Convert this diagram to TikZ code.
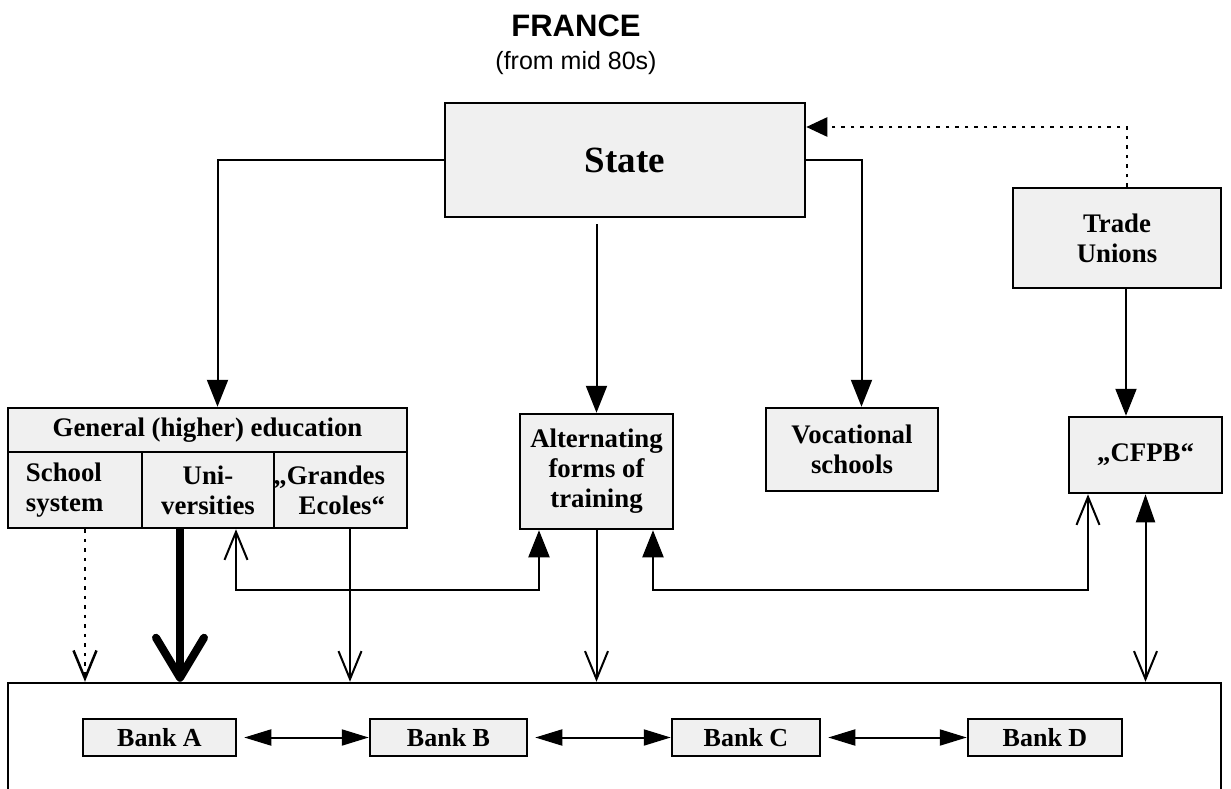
\documentclass[tikz,border=0pt]{standalone}
\usepackage{fontspec}
\setmainfont{Liberation Serif}
\newfontfamily\arialfont{Liberation Sans}
\usetikzlibrary{arrows.meta}
\definecolor{boxgray}{HTML}{F0F0F0}
\begin{document}
\begin{tikzpicture}[x=1pt,y=-1pt,
  box/.style={draw, line width=2.5pt, fill=boxgray, inner sep=0pt, align=center,
    font=\bfseries\fontsize{26.8}{30}\selectfont},
  boxtext/.style={inner sep=0pt, font=\bfseries\fontsize{26.8}{30}\selectfont},
  bankbox/.style={box, minimum height=37, font=\bfseries\fontsize{26}{30}\selectfont},
  conn/.style={line width=2pt},
  dotline/.style={line width=2.5pt, dash pattern=on 3.5pt off 6pt},
  fa/.style={-{Triangle[length=27pt,width=21pt]}},
  ob/.style={-{Straight Barb[length=28pt,width=23pt]}},
  thickarr/.style={line width=8pt, -{Straight Barb[length=40pt,width=48pt,round]}},
  bankarr/.style={{Triangle[length=27pt,width=16pt]}-{Triangle[length=27pt,width=16pt]}},
  loopone/.style={{Straight Barb[length=28pt,width=23pt]}-{Triangle[length=27pt,width=21pt]}},
  looptwo/.style={{Triangle[length=27pt,width=21pt]}-{Straight Barb[length=28pt,width=23pt]}},
  cfpbarr/.style={{Triangle[length=28pt,width=19pt]}-{Straight Barb[length=28pt,width=23pt]}},
  dotarr/.style={-{Triangle[length=21pt,width=19pt]}}
]
\useasboundingbox (0,0) rectangle (1231,789);

% title
\node[anchor=base, inner sep=0pt, font=\arialfont\bfseries\fontsize{31}{31}\selectfont] (title) at (576,37) {FRANCE};
\node[anchor=base, inner sep=0pt, font=\arialfont\fontsize{25}{25}\selectfont] (subtitle) at (576,70) {(from mid 80s)};

% boxes
\node[box, minimum width=360, minimum height=114, font=\bfseries\fontsize{37}{40}\selectfont] (state) at (625,160) {State};
\node[box, minimum width=208, minimum height=100] (trade) at (1117,238) {Trade\\Unions};

\node[box, minimum width=399, minimum height=44] (gen) at (207.5,430) {General (higher) education};
\node[box, minimum width=134, minimum height=76] (school) at (75,490) {};
\node[box, minimum width=132, minimum height=76] (uni) at (208,490) {Uni-\\versities};
\node[box, minimum width=133, minimum height=76] (grandes) at (340.5,490) {};
\node[boxtext, anchor=west, align=left] (schooltxt) at ([xshift=19pt]school.west) {School\\system};
\node[boxtext, anchor=east, align=right] (grandestxt) at ([xshift=-23pt]grandes.east) {„Grandes\\Ecoles“};

\node[box, minimum width=153, minimum height=115] (alt) at (596.5,471.5) {Alternating\\forms of\\training};
\node[box, minimum width=172, minimum height=83] (voc) at (852,449.5) {Vocational\\schools};
\node[box, minimum width=153, minimum height=76] (cfpb) at (1145.5,455) {„CFPB“};

\node[draw, line width=2.5pt, inner sep=0pt, minimum width=1213, minimum height=117] (banks) at (614.5,741.5) {};
\node[bankbox, minimum width=153] (bankA) at (159.5,737.5) {Bank A};
\node[bankbox, minimum width=157] (bankB) at (448.5,737.5) {Bank B};
\node[bankbox, minimum width=148] (bankC) at (746,737.5) {Bank C};
\node[bankbox, minimum width=154] (bankD) at (1045,737.5) {Bank D};

% connectors from State
\draw[conn,fa] (state.west) -| ([xshift=10pt]gen.north);
\draw[conn,fa,shorten <=6pt] (state.south -| alt.north) -- (alt.north);
\draw[conn,fa] (state.east) -| ([xshift=9.5pt]voc.north);
\draw[dotline,dotarr] ([xshift=10pt]trade.north) |- ([yshift=33pt]state.east);
\draw[conn,fa] ([xshift=9pt]trade.south) -- ([xshift=9pt]trade.south |- cfpb.north);

% CFPB to banks
\draw[conn,cfpbarr] (cfpb.south) -- (cfpb.south |- banks.north);

% loops
\draw[conn,loopone] ([xshift=28pt]uni.south) -- ++(0,61) -| ([xshift=-57.5pt]alt.south);
\draw[conn,looptwo] ([xshift=56.5pt]alt.south) -- ++(0,60) -| ([xshift=-57.5pt]cfpb.south);

% down to banks
\draw[conn,ob] (alt.south) -- (alt.south |- banks.north);
\draw[conn,ob] ([xshift=9.5pt]grandes.south) -- ([xshift=9.5pt]grandes.south |- banks.north);
\draw[dotline,ob] ([xshift=10pt]school.south) -- ([xshift=10pt]school.south |- banks.north);
\draw[thickarr] ([xshift=-28pt]uni.south) -- ([xshift=-28pt]uni.south |- banks.north);

% bank links
\draw[conn,bankarr,shorten <=7pt] (bankA.east) -- (bankB.west);
\draw[conn,bankarr,shorten <=7pt] (bankB.east) -- (bankC.west);
\draw[conn,bankarr,shorten <=7pt] (bankC.east) -- (bankD.west);
\end{tikzpicture}
\end{document}
